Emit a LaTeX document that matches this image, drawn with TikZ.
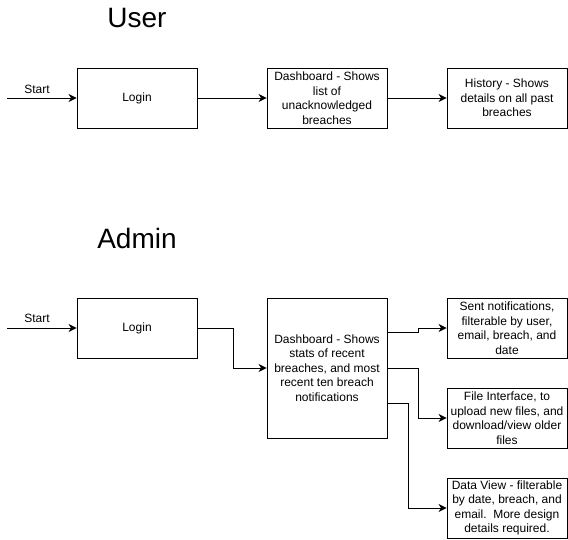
\documentclass[tikz,border=0pt]{standalone}
\usepackage{fontspec}
\setmainfont{Liberation Sans}
\usetikzlibrary{arrows.meta,calc}

\begin{document}
\begin{tikzpicture}[x=1pt,y=-1pt,->,>={Stealth[length=8pt,width=8pt,inset=2.5pt]},
  line width=0.9pt,
  main node/.style={rectangle,draw,minimum width=120pt,minimum height=60pt,
    align=center,inner sep=1pt,font=\fontsize{12}{14.5}\selectfont},
  title node/.style={font=\fontsize{28}{30}\selectfont},
  label node/.style={font=\fontsize{12}{14.5}\selectfont}]
  \useasboundingbox (0,0) rectangle (568,539);

  % user flow
  \node[title node] (user) at (137,18) {User};
  \node[label node] (start1) at (37,89) {Start};
  \coordinate (in1) at (7,98);
  \node[main node] (login1) at (137,98) {Login};
  \node[main node] (dash1) at (327,98) {Dashboard - Shows\\list of\\unacknowledged\\breaches};
  \node[main node] (hist) at (507,98) {History - Shows\\details on all past\\breaches};

  % admin flow
  \node[title node] (admin) at (137,238) {Admin};
  \node[label node] (start2) at (37,318) {Start};
  \coordinate (in2) at (7,328);
  \node[main node] (login2) at (137,328) {Login};
  \node[main node,minimum height=140pt] (dash2) at (327,368) {Dashboard - Shows\\stats of recent\\breaches, and most\\recent ten breach\\notifications};
  \node[main node] (sent) at (507,328) {Sent notifications,\\filterable by user,\\email, breach, and\\date};
  \node[main node] (files) at (507,418) {File Interface, to\\upload new files, and\\download/view older\\files};
  \node[main node] (data) at (507,508) {Data View - filterable\\by date, breach, and\\email.\ \ More design\\details required.};

  \path
    (in1) edge (login1)
    (login1) edge (dash1)
    (dash1) edge (hist)
    (in2) edge (login2)
    ;

  \draw (login2.east) -- ++(36,0) |- (dash2);
  \draw ($(dash2.north east)+(0,35)$) -- ++(31,0) |- (sent);
  \draw (dash2.east) -- ++(31,0) |- (files);
  \draw ($(dash2.south east)+(0,-35)$) -- ++(21,0) |- (data);
\end{tikzpicture}
\end{document}
